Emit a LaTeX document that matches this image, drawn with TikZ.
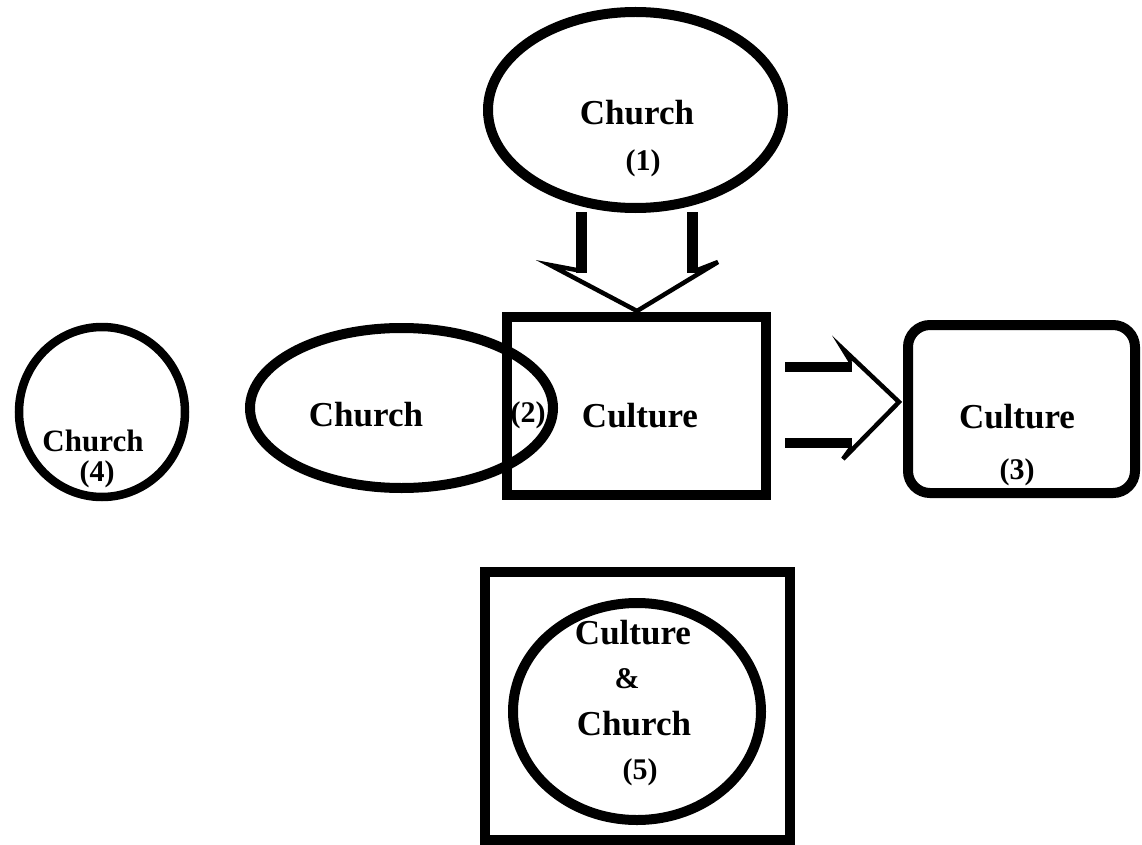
\documentclass[tikz,border=0pt]{standalone}
\usepackage{fontspec}
\setmainfont{Liberation Serif}
\usetikzlibrary{shapes.geometric}
\tikzset{
  shapeline/.style={draw=black, line width=10pt, inner sep=0pt, outer sep=0pt},
  ell/.style={shapeline, ellipse},
  boxshape/.style={shapeline, rectangle},
  word/.style={inner sep=0pt, font=\bfseries\fontsize{35}{40}\selectfont},
  smallword/.style={inner sep=0pt, font=\bfseries\fontsize{31}{36}\selectfont},
  num/.style={inner sep=0pt, font=\bfseries\fontsize{30}{34}\selectfont},
  shaft/.style={draw=black, line width=11pt},
  head/.style={draw=black, line width=4.5pt, line join=miter, line cap=butt},
}
\begin{document}
\begin{tikzpicture}[x=1pt,y=-1pt]
\useasboundingbox (0,0) rectangle (1142,845);

% shapes
\node[ell, minimum width=295pt, minimum height=196pt] (e1) at (635.5,110) {};
\node[ell, minimum width=303pt, minimum height=160pt] (e2) at (401.5,408) {};
\node[boxshape, minimum width=259pt, minimum height=178pt] (b2) at (636.5,406) {};
\node[boxshape, rounded corners=22pt, minimum width=227pt, minimum height=168pt] (b3) at (1021.5,409) {};
\node[ell, line width=8.5pt, minimum width=166pt, minimum height=170pt] (c4) at (102,412) {};
\node[boxshape, minimum width=305pt, minimum height=268pt] (b5) at (637.5,705.5) {};
\node[ell, minimum width=248pt, minimum height=217pt] (c5) at (637,711.5) {};

% texts
\node[word] (t1) at (637,113) {Church};
\node[num] (n1) at (643,163) {(1)};
\node[word] (t2) at (366,415) {Church};
\node[num] (n2) at (528,415) {(2)};
\node[word] (t2b) at (640,416) {Culture};
\node[word] (t3) at (1017,417) {Culture};
\node[num] (n3) at (1017,472) {(3)};
\node[smallword] (t4) at (93,441) {Church};
\node[num] (n4) at (97,474) {(4)};
\node[word] (t5a) at (633,633) {Culture};
\node[num] (t5b) at (627,679) {\&};
\node[word] (t5c) at (634,724) {Church};
\node[num] (n5) at (640,772) {(5)};

% down block arrow from e1 to b2
\coordinate (dsl1) at (581,212);
\coordinate (dsl2) at (581,273);
\coordinate (dsr1) at (692,212);
\coordinate (dsr2) at (692,273);
\coordinate (dhl) at (550,265);
\coordinate (dtip) at (637,311);
\coordinate (dhr) at (718,262);
\draw[shaft] (dsl1) -- (dsl2);
\draw[shaft] (dsr1) -- (dsr2);
\draw[head] (576.5,270) -- (dhl) -- (dtip) -- (dhr) -- (697.5,270);

% right block arrow from b2 to b3
\coordinate (rsu1) at (785,367);
\coordinate (rsu2) at (852,367);
\coordinate (rsd1) at (785,443);
\coordinate (rsd2) at (852,443);
\coordinate (rhu) at (843,349);
\coordinate (rtip) at (899,402);
\coordinate (rhd) at (843,459);
\draw[shaft, line width=10pt] (rsu1) -- (rsu2);
\draw[shaft, line width=10pt] (rsd1) -- (rsd2);
\draw[head] (851,362) -- (rhu) -- (rtip) -- (rhd) -- (851,448);
\end{tikzpicture}
\end{document}
